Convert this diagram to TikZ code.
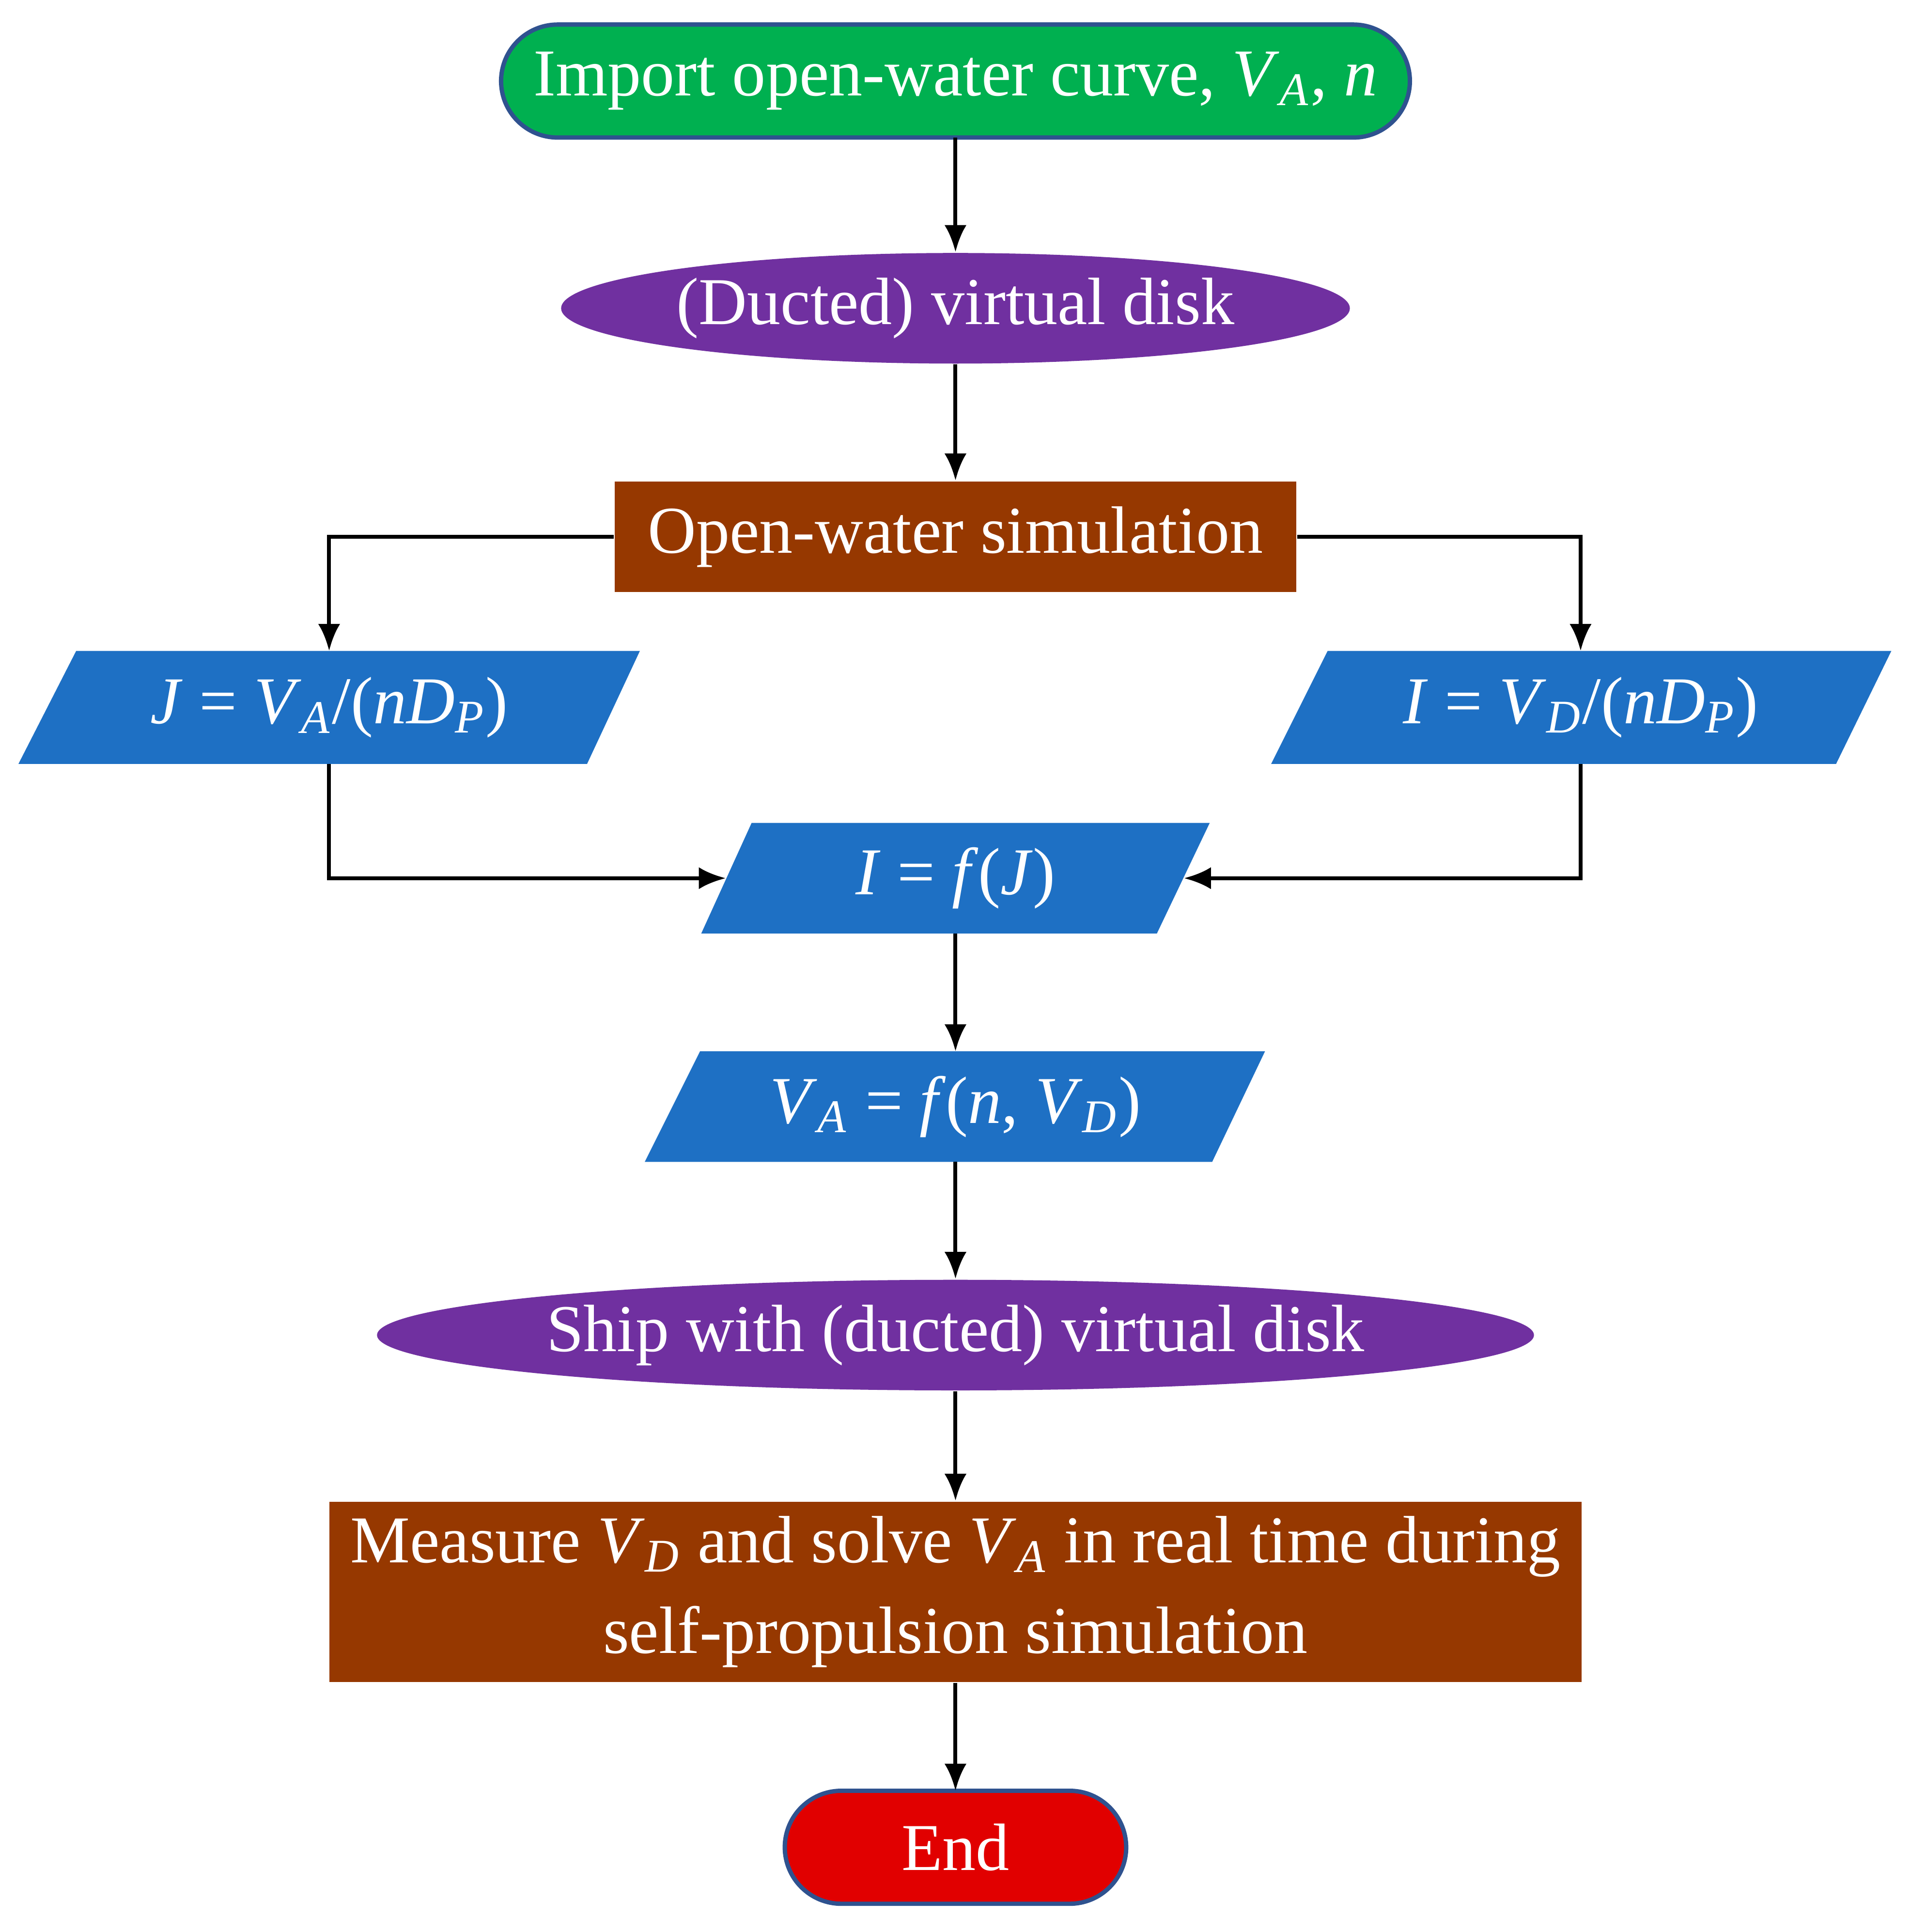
\documentclass[tikz,border=0pt]{standalone}
\usepackage{fontspec}
\setmainfont{Liberation Serif}
\usetikzlibrary{arrows.meta,shapes.geometric}
\definecolor{cgreen}{RGB}{0,176,80}
\definecolor{cpurp}{RGB}{112,48,160}
\definecolor{cbrown}{RGB}{150,56,0}
\definecolor{cblue}{RGB}{30,112,196}
\definecolor{cred}{RGB}{225,0,0}
\definecolor{cedge}{RGB}{47,82,143}
\newcommand\lo[1]{\textsubscript{\textit{#1}}}
\begin{document}
\begin{tikzpicture}[x=0.01cm,y=-0.01cm,
  txt/.style={text=white,font=\fontsize{15.5}{21}\selectfont,align=center},
  arr/.style={-{Latex[length=0.22cm,width=0.18cm]},line width=0.9pt},
  para/.style={fill=cblue}]
\useasboundingbox (0,0) rectangle (1556,1573);
% start
\draw[fill=cgreen,draw=cedge,line width=1pt,rounded corners=0.46cm] (408,20) rectangle (1148,112);
\node[txt] (start) at (778,66) {Import open-water curve, \textit{V}\lo{A}, \textit{n}};
\coordinate (startb) at (778,112);
% ellipse 1
\node[ellipse,fill=cpurp,inner sep=0pt,minimum width=5.55cm,minimum height=0.9cm,txt] (vd) at (778,251) {(Ducted) virtual disk};
% rect 1
\node[fill=cbrown,minimum width=5.55cm,minimum height=0.9cm,txt] (ow) at (778,437) {Open-water simulation};
% left para
\fill[para] (62,530) -- (521,530) -- (478,622) -- (15,622) -- cycle;
\node[txt] (J) at (268,576) {\textit{J} = \textit{V}\lo{A}/(\textit{nD}\lo{P})};
\coordinate (Jt) at (268,530); \coordinate (Jb) at (268,622);
% right para
\fill[para] (1081,530) -- (1540,530) -- (1495,622) -- (1035,622) -- cycle;
\node[txt] (I) at (1287,576) {\textit{I} = \textit{V}\lo{D}/(\textit{nD}\lo{P})};
\coordinate (It) at (1287,530); \coordinate (Ib) at (1287,622);
% center para
\fill[para] (612,670) -- (985,670) -- (942,760) -- (571,760) -- cycle;
\node[txt] (f) at (778,715) {\textit{I} = \textit{f}(\textit{J})};
\coordinate (fl) at (591,715); \coordinate (fr) at (964,715);
\coordinate (ft) at (778,670); \coordinate (fb) at (778,760);
% VA para
\fill[para] (570,856) -- (1030,856) -- (987,946) -- (525,946) -- cycle;
\node[txt] (va) at (778,901) {\textit{V}\lo{A} = \textit{f}(\textit{n}, \textit{V}\lo{D})};
\coordinate (vat) at (778,856); \coordinate (vab) at (778,946);
% ellipse 2
\node[ellipse,fill=cpurp,inner sep=0pt,minimum width=8.31cm,minimum height=0.9cm,txt] (ship) at (778,1087) {Ship with (ducted) virtual disk};
% rect 2
\node[fill=cbrown,minimum width=10.19cm,minimum height=1.37cm,txt] (meas) at (778,1296) {Measure \textit{V}\lo{D} and solve \textit{V}\lo{A} in real time during\\self-propulsion simulation};
% end
\draw[fill=cred,draw=cedge,line width=1pt,rounded corners=0.46cm] (639,1458) rectangle (917,1550);
\node[txt] (end) at (778,1504) {End};
\coordinate (endt) at (778,1458);
% arrows
\draw[arr] (startb) -- (vd.north);
\draw[arr] (vd.south) -- (ow.north);
\draw[arr] (ow.west) -| (Jt);
\draw[arr] (ow.east) -| (It);
\draw[arr] (Jb) |- (fl);
\draw[arr] (Ib) |- (fr);
\draw[arr] (fb) -- (vat);
\draw[arr] (vab) -- (ship.north);
\draw[arr] (ship.south) -- (meas.north);
\draw[arr] (meas.south) -- (endt);
\end{tikzpicture}
\end{document}
